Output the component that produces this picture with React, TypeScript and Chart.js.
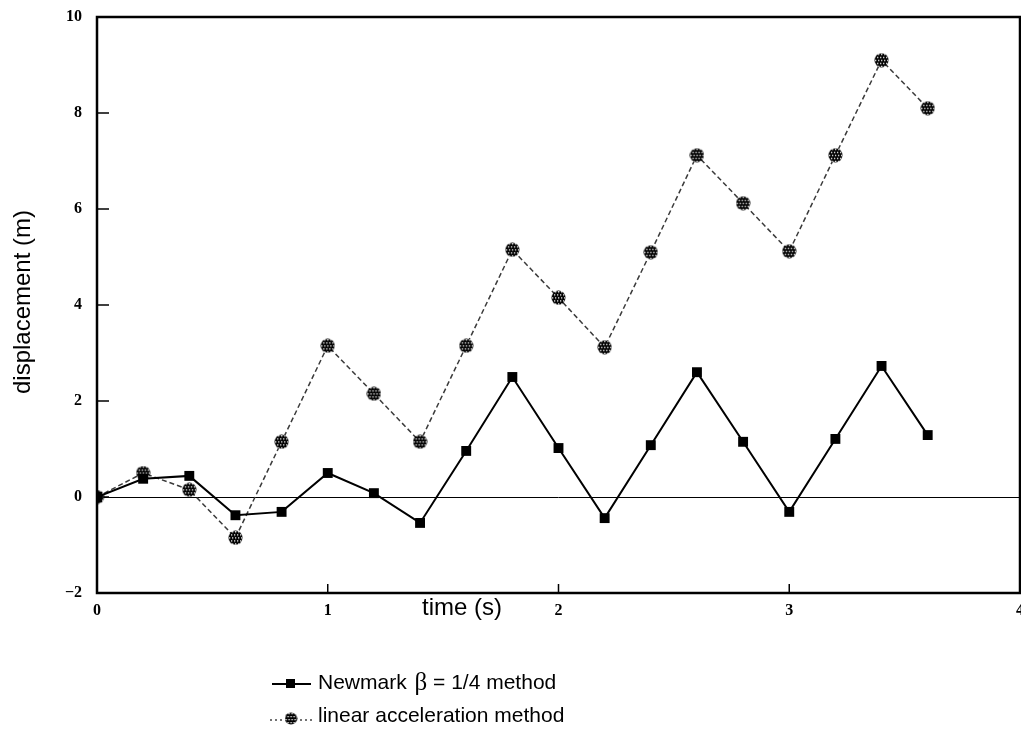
import React, { useEffect, useRef } from "react";
import { Chart, registerables } from "chart.js";

Chart.register(...registerables);

// Sample times (s) and displacements (m) for the two integration schemes
const times = [0, 0.2, 0.4, 0.6, 0.8, 1.0, 1.2, 1.4, 1.6, 1.8, 2.0, 2.2, 2.4, 2.6, 2.8, 3.0, 3.2, 3.4, 3.6];
const newmarkValues = [0, 0.38, 0.44, -0.38, -0.31, 0.5, 0.08, -0.54, 0.96, 2.5, 1.02, -0.44, 1.08, 2.6, 1.15, -0.31, 1.21, 2.73, 1.29];
const linearAccelValues = [0, 0.5, 0.15, -0.85, 1.15, 3.15, 2.15, 1.15, 3.15, 5.15, 4.15, 3.12, 5.1, 7.12, 6.12, 5.12, 7.12, 9.1, 8.1];

const xTicks = [0, 1, 2, 3, 4];
const yTicks = [-2, 0, 2, 4, 6, 8, 10];

const xTitle = "time (s)";
const yTitle = "displacement (m)";
const legendNewmark = ["Newmark ", "\u03b2", " = 1/4 method"];
const legendLinear = "linear acceleration method";

const SANS = "'Liberation Sans', Arial, Helvetica, sans-serif";
const SERIF = "'Liberation Serif', 'Times New Roman', serif";

// Cross-hatched round marker drawn once into an offscreen canvas
function makeHatchMarker(size: number): HTMLCanvasElement {
  const c = document.createElement("canvas");
  c.width = size;
  c.height = size;
  const g = c.getContext("2d")!;
  const r = size / 2;
  g.save();
  g.beginPath();
  g.arc(r, r, r - 0.5, 0, Math.PI * 2);
  g.clip();
  g.fillStyle = "#000";
  g.fillRect(0, 0, size, size);
  g.fillStyle = "#fff";
  for (let y = 0; y < size; y++) {
    for (let x = 0; x < size; x++) {
      if (y % 3 === 1 && (x + (Math.floor(y / 3) % 2)) % 3 === 1) {
        g.fillRect(x, y, 1.3, 1.3);
      }
    }
  }
  g.restore();
  return c;
}

const fmt = (v: number) => String(v).replace("-", "\u2212");

export default function App() {
  const ref = useRef<HTMLCanvasElement | null>(null);

  useEffect(() => {
    const canvas = ref.current;
    if (!canvas) return;
    const marker = makeHatchMarker(15);
    const legendMarker = makeHatchMarker(13);

    const framePlugin = {
      id: "frame",
      beforeDatasetsDraw(chart: any) {
        const { ctx, chartArea, scales } = chart;
        const y0 = scales.y.getPixelForValue(0);
        ctx.save();
        ctx.strokeStyle = "#000";
        ctx.lineWidth = 1;
        ctx.beginPath();
        ctx.moveTo(chartArea.left, y0 + 0.5);
        ctx.lineTo(chartArea.right, y0 + 0.5);
        ctx.stroke();
        ctx.restore();
      },
      afterDatasetsDraw(chart: any) {
        const { ctx, chartArea, scales } = chart;
        const { left, right, top, bottom } = chartArea;
        ctx.save();
        ctx.strokeStyle = "#000";
        ctx.lineWidth = 2.5;
        ctx.strokeRect(left, top, right - left, bottom - top);
        // inward tick marks
        ctx.lineWidth = 1.5;
        ctx.beginPath();
        for (const v of yTicks) {
          const py = scales.y.getPixelForValue(v);
          ctx.moveTo(left, py);
          ctx.lineTo(left + 12, py);
        }
        for (const v of xTicks) {
          const px = scales.x.getPixelForValue(v);
          ctx.moveTo(px, bottom);
          ctx.lineTo(px, bottom - 9);
        }
        ctx.stroke();

        // tick labels
        ctx.fillStyle = "#000";
        ctx.font = `bold 16px ${SERIF}`;
        ctx.textAlign = "right";
        ctx.textBaseline = "middle";
        for (const v of yTicks) {
          ctx.fillText(fmt(v), left - 15, scales.y.getPixelForValue(v));
        }
        ctx.textAlign = "center";
        for (const v of xTicks) {
          ctx.fillText(fmt(v), scales.x.getPixelForValue(v), bottom + 18);
        }

        // axis titles
        ctx.font = `24px ${SANS}`;
        ctx.textAlign = "center";
        ctx.textBaseline = "alphabetic";
        ctx.fillText(xTitle, 462, 615);
        ctx.save();
        ctx.translate(30, 302);
        ctx.rotate(-Math.PI / 2);
        ctx.fillText(yTitle, 0, 0);
        ctx.restore();

        // legend
        ctx.textAlign = "left";
        const ly1 = 684;
        ctx.lineWidth = 2;
        ctx.setLineDash([]);
        ctx.beginPath();
        ctx.moveTo(272, ly1);
        ctx.lineTo(311, ly1);
        ctx.stroke();
        ctx.fillRect(286, ly1 - 5, 9, 9);
        let tx = 318;
        const tb1 = 689;
        ctx.font = `21px ${SANS}`;
        ctx.fillText(legendNewmark[0], tx, tb1);
        tx += ctx.measureText(legendNewmark[0]).width + 2;
        ctx.font = `25px ${SERIF}`;
        ctx.fillText(legendNewmark[1], tx, tb1 + 1);
        tx += ctx.measureText(legendNewmark[1]).width;
        ctx.font = `21px ${SANS}`;
        ctx.fillText(legendNewmark[2], tx, tb1);
        const ly2 = 720;
        ctx.strokeStyle = "#444";
        ctx.lineWidth = 1.5;
        ctx.setLineDash([2, 3]);
        ctx.beginPath();
        ctx.moveTo(270, ly2);
        ctx.lineTo(312, ly2);
        ctx.stroke();
        ctx.setLineDash([]);
        ctx.drawImage(legendMarker, 291 - 6.5, ly2 - 8);
        ctx.font = `21px ${SANS}`;
        ctx.fillText(legendLinear, 318, 722);
        ctx.restore();
      },
    };

    const chart = new Chart(canvas, {
      type: "line",
      data: {
        datasets: [
          {
            label: legendLinear,
            data: times.map((t, i) => ({ x: t, y: linearAccelValues[i] })),
            borderColor: "#3a3a3a",
            borderWidth: 1.5,
            borderDash: [5, 3],
            pointStyle: marker,
            pointRadius: 7,
            order: 2,
          },
          {
            label: legendNewmark.join(""),
            data: times.map((t, i) => ({ x: t, y: newmarkValues[i] })),
            borderColor: "#000",
            borderWidth: 2,
            pointStyle: "rect",
            pointRadius: 7,
            pointBackgroundColor: "#000",
            pointBorderColor: "#000",
            pointBorderWidth: 0,
            order: 1,
          },
        ],
      },
      options: {
        responsive: false,
        animation: false,
        layout: { autoPadding: false, padding: { top: 17, right: 1, left: 0, bottom: 0 } },
        plugins: {
          legend: { display: false },
          tooltip: { enabled: false },
        },
        scales: {
          x: {
            type: "linear",
            min: 0,
            max: 4,
            afterBuildTicks(scale: any) {
              scale.ticks = xTicks.map((v) => ({ value: v }));
            },
            afterFit(scale: any) {
              scale.height = 149;
            },
            grid: { display: false, drawTicks: false },
            border: { display: false },
            ticks: { display: false },
          },
          y: {
            type: "linear",
            min: -2,
            max: 10,
            afterBuildTicks(scale: any) {
              scale.ticks = yTicks.map((v) => ({ value: v }));
            },
            afterFit(scale: any) {
              scale.width = 97;
            },
            grid: { display: false, drawTicks: false },
            border: { display: false },
            ticks: { display: false },
          },
        },
      },
      plugins: [framePlugin],
    });
    return () => chart.destroy();
  }, []);

  return (
    <div style={{ position: "fixed", left: 0, top: 0, width: 1021, height: 742, background: "#fff" }}>
      <canvas ref={ref} width={1021} height={742} style={{ display: "block" }} />
    </div>
  );
}
